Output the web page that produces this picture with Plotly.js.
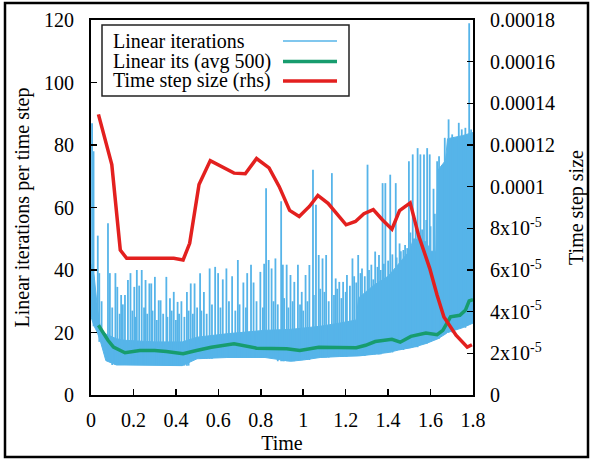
<!DOCTYPE html>
<html>
<head>
<meta charset="utf-8">
<script src="https://cdn.plot.ly/plotly-3.0.1.min.js"></script>
<style>html,body{margin:0;padding:0;background:#fff}#chart{width:592px;height:460px}</style>
</head>
<body>
<div id="chart"></div>
<script>
// ---- Data ----
// Dense "Linear iterations" band (envelope of the rapidly oscillating line)
const bandT  = [0, 0.015, 0.03, 0.045, 0.07, 0.12, 0.16, 0.3, 0.43, 0.5, 0.64, 0.82, 0.94, 1.0, 1.08, 1.17, 1.25, 1.26, 1.33, 1.40, 1.45, 1.50, 1.52, 1.58, 1.60, 1.625, 1.635, 1.67, 1.68, 1.75, 1.8];
const bandLo = [25, 22, 20, 17, 11, 9.6, 9.6, 9.6, 9.4, 11.6, 12, 12, 10.8, 11.2, 12, 12.3, 12.5, 12.5, 13, 13.6, 14.4, 15, 15.3, 16.5, 17, 17.6, 18, 19.5, 20, 21.5, 23];
const bandHi = [42, 38, 28, 21, 19.5, 18, 17.5, 17, 17, 18.5, 19.6, 20.7, 21, 21.5, 22, 23, 24, 31, 35, 38, 42, 46, 50, 49, 46, 46, 72, 75, 82, 83, 84];
// Individual spikes of the "Linear iterations" line
const spikeT = [0.005,0.012,0.032,0.039,0.05,0.080,0.089,0.1,0.115,0.124,0.135,0.142,0.15,0.160,0.174,0.186,0.195,0.204,0.21,0.216,0.227,0.239,0.25,0.257,0.265,0.275,0.284,0.29,0.301,0.31,0.319,0.328,0.34,0.355,0.36,0.372,0.38,0.390,0.40,0.408,0.415,0.426,0.44,0.452,0.46,0.470,0.48,0.488,0.50,0.514,0.52,0.532,0.545,0.559,0.57,0.585,0.599,0.61,0.621,0.638,0.65,0.665,0.68,0.692,0.70,0.718,0.73,0.736,0.754,0.766,0.78,0.798,0.81,0.816,0.825,0.837,0.851,0.86,0.869,0.88,0.896,0.904,0.91,0.922,0.93,0.940,0.95,0.958,0.975,0.985,0.993,1.0,1.011,1.02,1.029,1.046,1.05,1.060,1.073,1.08,1.091,1.10,1.108,1.12,1.135,1.145,1.153,1.16,1.170,1.18,1.188,1.20,1.206,1.22,1.232,1.24,1.25,1.259,1.27,1.277,1.29,1.303,1.31,1.321,1.33,1.339,1.35,1.357,1.365,1.374,1.38,1.387,1.40,1.410,1.42,1.436,1.44,1.454,1.46,1.472,1.48,1.49,1.498,1.505,1.516,1.53,1.539,1.552,1.56,1.569,1.58,1.584,1.596,1.60,1.614,1.62,1.631,1.640,1.667,1.685,1.702,1.733,1.747,1.764,1.782,1.791];
const spikeV = [87,78,51,39,30,55,39,28,39,34.6,26,32,29,32,36.8,39,27,34.6,25,40,35,40,28,36.8,26,35.7,35.7,27,37.8,24,30.3,30.3,26,37.8,25,31,27,33,24,29.8,26,30,25,33,27,35.7,26,35.7,28,39,27,33,26,40.5,29,41,39,28,37,40.5,30,38,27,43.2,29,36,28,39,41.7,36,30,39.4,28,42,66.2,43.2,40.5,30,43.7,29,62,41.7,31,41.7,28,38.4,30,36.2,41.7,29,33,27,38.4,30,41.6,72.1,32,60.9,44.8,34,43.7,33,44.8,30,71,32,37.3,34,36.2,31,36.2,33,38.4,35,43.7,38,36,44.8,39,40.5,38,73.7,40,41.7,37,45.9,41,44.8,40,67.8,42,67.8,43,70.5,45,67.8,44,48.5,46,46.4,48,47,74.8,52,77,55,79,77,53,77,56,79,77,54,66,58,74.8,76.4,82.3,88.2,83.4,87.1,85,85.5,119,85];
// Linear its (avg 500)
const avgT = [0.035,0.08,0.106,0.16,0.23,0.30,0.355,0.434,0.497,0.567,0.674,0.78,0.922,0.984,1.073,1.17,1.25,1.294,1.339,1.418,1.457,1.507,1.578,1.631,1.658,1.694,1.738,1.764,1.782,1.8];
const avgV = [22.3,17.5,15.3,13.5,14.25,14.25,13.9,13.2,14.25,15.3,16.4,15.0,14.8,14.25,15.3,15.1,15.1,15.9,17.1,17.8,16.9,18.75,19.8,19.3,20.7,25.0,25.5,27.1,30.1,30.5];
// Time step size (rhs)
const dtT = [0.035,0.098,0.138,0.168,0.319,0.39,0.434,0.465,0.509,0.562,0.674,0.727,0.780,0.839,0.887,0.936,0.981,1.029,1.069,1.117,1.202,1.246,1.286,1.330,1.374,1.418,1.454,1.504,1.543,1.596,1.631,1.663,1.72,1.773,1.795];
const dtV = [1.347e-4,1.106e-4,6.96e-5,6.56e-5,6.56e-5,6.56e-5,6.48e-5,7.28e-5,1.01e-4,1.125e-4,1.065e-4,1.062e-4,1.135e-4,1.09e-4,1.0e-4,8.86e-5,8.57e-5,9.05e-5,9.58e-5,9.2e-5,8.17e-5,8.33e-5,8.7e-5,8.9e-5,8.4e-5,7.96e-5,8.85e-5,9.22e-5,7.68e-5,6.08e-5,4.79e-5,3.74e-5,2.87e-5,2.3e-5,2.41e-5];
// Right axis tick labels
const rTickVals = [0,2e-5,4e-5,6e-5,8e-5,1e-4,1.2e-4,1.4e-4,1.6e-4,1.8e-4];
const rTickText = ['0','2x10<sup>-5</sup>','4x10<sup>-5</sup>','6x10<sup>-5</sup>','8x10<sup>-5</sup>','0.0001','0.00012','0.00014','0.00016','0.00018'];
const seriesNames = ['Linear iterations','Linear its (avg 500)','Time step size (rhs)'];

// ---- Build ----
const BLUE = '#56b4e9', GREEN = '#179c6e', RED = '#e3201f';
const FONT = "'Liberation Serif', 'Times New Roman', Times, serif";

const sx = [], sy = [];
spikeT.forEach((t, i) => {
  let k = 0, best = 1e9;
  bandT.forEach((b, j) => { const d = Math.abs(b - t); if (d < best) { best = d; k = j; } });
  sx.push(t, t, null); sy.push(bandLo[k], spikeV[i], null);
});

const traces = [
  {x: bandT, y: bandLo, mode: 'lines', line: {color: BLUE, width: 1}, hoverinfo: 'skip', showlegend: false},
  {x: bandT, y: bandHi, mode: 'lines', fill: 'tonexty', fillcolor: BLUE, line: {color: BLUE, width: 1}, hoverinfo: 'skip', showlegend: false},
  {x: sx, y: sy, mode: 'lines', line: {color: BLUE, width: 1.8}, name: seriesNames[0], showlegend: false},
  {x: avgT, y: avgV, mode: 'lines', line: {color: GREEN, width: 3.5}, name: seriesNames[1], showlegend: false},
  {x: dtT, y: dtV, yaxis: 'y2', mode: 'lines', line: {color: RED, width: 3.5}, name: seriesNames[2], showlegend: false}
];

const L = 91, R = 473, T = 20, B = 395;
const px = v => (v - L) / (R - L);
const py = v => (B - v) / (B - T);

const rowY = [41, 61.5, 81];
const rowC = [BLUE, GREEN, RED];
const rowW = [1.5, 3.5, 3.5];
const shapes = [
  {type: 'rect', xref: 'paper', yref: 'paper', x0: px(5), x1: px(588), y0: py(457), y1: py(3), line: {color: '#000', width: 2.5}},
  {type: 'rect', xref: 'paper', yref: 'paper', x0: px(102), x1: px(349), y0: py(96), y1: py(25), line: {color: '#222', width: 1.5}}
];
const annotations = [];
seriesNames.forEach((n, i) => {
  shapes.push({type: 'line', xref: 'paper', yref: 'paper', x0: px(283), x1: px(337), y0: py(rowY[i]), y1: py(rowY[i]), line: {color: rowC[i], width: rowW[i]}});
  annotations.push({xref: 'paper', yref: 'paper', x: px(111), y: py(rowY[i]), xanchor: 'left', yanchor: 'middle', text: n, showarrow: false, font: {family: FONT, size: 20, color: '#000'}});
});

const axisCommon = {
  showgrid: false, zeroline: false, showline: true, linecolor: '#000', linewidth: 2,
  ticks: 'inside', ticklen: 6, tickwidth: 1.5, tickcolor: '#000',
  tickfont: {family: FONT, size: 20, color: '#000'}
};

const layout = {
  width: 592, height: 460,
  margin: {l: L, r: 592 - R, t: T, b: 460 - B},
  paper_bgcolor: '#fff', plot_bgcolor: '#fff',
  font: {family: FONT, color: '#000'},
  showlegend: false,
  xaxis: Object.assign({}, axisCommon, {range: [0, 1.8], dtick: 0.2, tick0: 0, mirror: true, ticklabelstandoff: 6,
    title: {text: 'Time', font: {family: FONT, size: 20, color: '#000'}, standoff: 6}}),
  yaxis: Object.assign({}, axisCommon, {range: [0, 120], dtick: 20, tick0: 0, mirror: true, ticklabelstandoff: 11,
    title: {text: 'Linear iterations per time step', font: {family: FONT, size: 20, color: '#000'}, standoff: 9}}),
  yaxis2: Object.assign({}, axisCommon, {overlaying: 'y', side: 'right', range: [0, 0.00018], showline: false,
    tickmode: 'array', tickvals: rTickVals, ticktext: rTickText, ticklabelstandoff: 16,
    title: {text: 'Time step size', font: {family: FONT, size: 20, color: '#000'}, standoff: 14}}),
  shapes: shapes,
  annotations: annotations
};

Plotly.newPlot('chart', traces, layout, {displayModeBar: false, staticPlot: true});
</script>
</body>
</html>
